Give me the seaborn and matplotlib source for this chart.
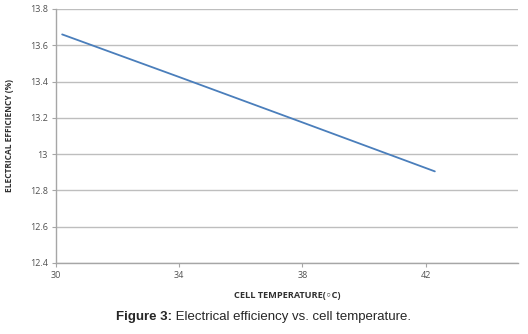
import matplotlib
matplotlib.use("Agg")
import matplotlib.pyplot as plt
import pandas as pd
import seaborn as sns

# values
cell_temp = [30.2, 34.0, 38.0, 42.3]
efficiency = [13.66, 13.425, 13.175, 12.905]
x_ticks = [30, 34, 38, 42]
y_ticks = [12.4, 12.6, 12.8, 13.0, 13.2, 13.4, 13.6, 13.8]
y_tick_labels = ["12.4", "12.6", "12.8", "13", "13.2", "13.4", "13.6", "13.8"]

df = pd.DataFrame({"temp": cell_temp, "eff": efficiency})

sns.set_theme(style="whitegrid")
plt.rcParams["font.family"] = ["Open Sans", "DejaVu Sans"]

fig = plt.figure(figsize=(5.28, 3.34), dpi=100)
ax = fig.add_axes([56 / 528, 71 / 334, 462 / 528, 254 / 334])

sns.lineplot(data=df, x="temp", y="eff", ax=ax, color="#4A7EBB", linewidth=1.3)

ax.set_xlim(30, 45)
ax.set_ylim(12.4, 13.8)
ax.set_xticks(x_ticks)
ax.set_xticklabels([str(t) for t in x_ticks])
ax.set_yticks(y_ticks)
ax.set_yticklabels(y_tick_labels)
ax.grid(axis="x", visible=False)
ax.grid(axis="y", color="#BEBEBE", linewidth=1.0)
for side in ["top", "right"]:
	ax.spines[side].set_visible(False)
for side in ["left", "bottom"]:
	ax.spines[side].set_color("#A6A6A6")
	ax.spines[side].set_linewidth(1.0)
ax.tick_params(axis="both", which="major", length=3, width=0.8, color="#A6A6A6",
	labelsize=6.5, labelcolor="#505050", direction="out", bottom=True, left=True, pad=3)

ax.set_xlabel("CELL TEMPERATURE(◦C)", fontsize=6.6, fontweight="bold", color="#303030")
ax.set_ylabel("ELECTRICAL EFFICIENCY (%)", fontsize=6, fontweight="bold", color="#303030")
ax.xaxis.set_label_coords(0.5, -0.126)
ax.yaxis.set_label_coords(-0.1, 0.5)
ax.xaxis.label.set_va("center")
ax.yaxis.label.set_va("center")

# caption with bold prefix
fig.canvas.draw()
renderer = fig.canvas.get_renderer()
prefix = fig.text(0, 14 / 334, "Figure 3:", fontsize=9.5, fontweight="bold", family="Liberation Sans")
rest = fig.text(0, 14 / 334, " Electrical efficiency vs. cell temperature.", fontsize=9.5, family="Liberation Sans")
w1 = prefix.get_window_extent(renderer).width
w2 = rest.get_window_extent(renderer).width
start = (528 - w1 - w2) / 2
prefix.set_x(start / 528)
rest.set_x((start + w1) / 528)

fig.savefig("out.png", dpi=100)
